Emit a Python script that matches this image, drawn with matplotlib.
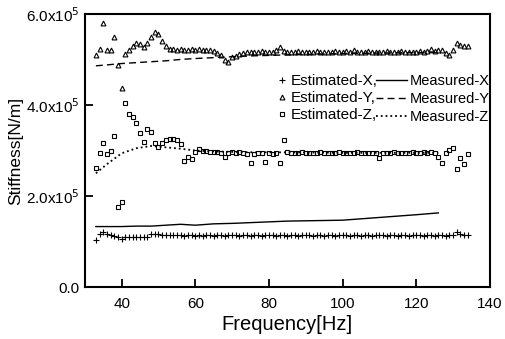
import matplotlib
matplotlib.use("Agg")
import matplotlib.pyplot as plt
import numpy as np

plt.rcParams['font.family'] = ['Liberation Sans', 'DejaVu Sans']

# frequency grid of the estimated points [Hz]
freq = np.arange(33, 135)

# estimated stiffness, units of 1e5 N/m
est_x = [1.03, 1.16, 1.22, 1.16, 1.15, 1.12, 1.09, 1.06,
         1.10, 1.11, 1.11, 1.11, 1.10, 1.09, 1.09, 1.17, 1.16, 1.16,
         1.15, 1.15, 1.14, 1.14, 1.14, 1.14, 1.13, 1.14, 1.14, 1.13,
         1.14, 1.13, 1.14, 1.14, 1.13, 1.14, 1.14, 1.13, 1.14, 1.14,
         1.14, 1.13, 1.14, 1.14, 1.13, 1.14, 1.14, 1.13, 1.14, 1.14,
         1.14, 1.13, 1.14, 1.14, 1.13, 1.14, 1.14, 1.13, 1.14, 1.14,
         1.14, 1.13, 1.14, 1.14, 1.13, 1.14, 1.14, 1.13, 1.14, 1.14,
         1.14, 1.13, 1.14, 1.14, 1.13, 1.14, 1.14, 1.13, 1.14, 1.14,
         1.14, 1.13, 1.14, 1.14, 1.13, 1.14, 1.14, 1.13, 1.14, 1.14,
         1.14, 1.13, 1.14, 1.14, 1.13, 1.14, 1.14, 1.13, 1.14, 1.15,
         1.20, 1.16, 1.15, 1.15]

est_y = [5.10, 5.23, 5.80, 5.20, 5.21, 5.50, 4.88, 4.37,
         5.12, 5.20, 5.30, 5.36, 5.33, 5.27, 5.36, 5.50, 5.60, 5.55,
         5.40, 5.30, 5.24, 5.22, 5.21, 5.22, 5.20, 5.21, 5.22, 5.21,
         5.22, 5.21, 5.20, 5.21, 5.19, 5.15, 5.10, 4.98, 4.95, 5.05,
         5.08, 5.12, 5.14, 5.16, 5.17, 5.16, 5.17, 5.18, 5.17, 5.16,
         5.17, 5.20, 5.28, 5.18, 5.17, 5.16, 5.17, 5.18, 5.17, 5.17,
         5.16, 5.17, 5.18, 5.17, 5.16, 5.17, 5.17, 5.18, 5.17, 5.17,
         5.18, 5.17, 5.20, 5.17, 5.16, 5.17, 5.18, 5.17, 5.16, 5.17,
         5.17, 5.18, 5.17, 5.16, 5.17, 5.18, 5.17, 5.16, 5.17, 5.17,
         5.18, 5.17, 5.19, 5.22, 5.18, 5.20, 5.21, 5.14, 5.10, 5.20,
         5.36, 5.32, 5.30, 5.30]

est_z = [2.61, 2.95, 3.16, 2.92, 3.00, 3.32, 1.75, 1.86,
         4.05, 3.80, 3.73, 3.61, 3.39, 3.19, 3.47, 3.41, 3.17, 3.07,
         3.16, 3.22, 3.25, 3.25, 3.22, 3.14, 2.77, 2.86, 2.81, 2.97,
         3.03, 3.00, 2.98, 2.97, 2.96, 2.97, 2.95, 2.86, 2.94, 2.96,
         2.95, 2.96, 2.94, 2.93, 2.72, 2.93, 2.95, 2.94, 2.74, 2.95,
         2.93, 2.94, 2.73, 3.22, 2.96, 2.95, 2.94, 2.95, 2.96, 2.95,
         2.95, 2.94, 2.95, 2.96, 2.95, 2.94, 2.95, 2.95, 2.96, 2.95,
         2.94, 2.95, 2.95, 2.96, 2.95, 2.95, 2.94, 2.95, 2.95, 2.83,
         2.95, 2.94, 2.95, 2.96, 2.95, 2.95, 2.94, 2.95, 2.96, 2.95,
         2.95, 2.96, 2.94, 2.97, 2.95, 2.86, 2.72, 2.94, 3.01, 3.05,
         2.59, 2.83, 2.70, 2.92]

# measured stiffness
freq_meas = [33, 36, 40, 44, 48, 52, 56, 60, 65, 70, 76, 85, 100, 110, 120, 126]
meas_x = [1.33, 1.33, 1.33, 1.34, 1.34, 1.36, 1.38, 1.36, 1.39, 1.40, 1.42, 1.45, 1.47, 1.53, 1.59, 1.63]
meas_y = [4.86, 4.88, 4.91, 4.93, 4.95, 4.97, 5.00, 5.02, 5.04, 5.06, 5.08, 5.10, 5.13, 5.14, 5.15, 5.15]
meas_z = [2.50, 2.70, 2.94, 3.05, 3.10, 3.07, 3.04, 3.00, 2.98, 2.97, 2.96, 2.96, 2.95, 2.95, 2.95, 2.95]

fig = plt.figure(figsize=(5.05, 3.39), dpi=100)
ax = fig.add_axes([0.168, 0.153, 0.802, 0.806])

sc = 1e5
h1, = ax.plot(freq, np.array(est_x) * sc, '+', color='k', ms=4, mew=0.8, label='Estimated-X,')
h2, = ax.plot(freq, np.array(est_y) * sc, '^', color='k', mfc='none', ms=3.5, mew=0.8, label='Estimated-Y,')
h3, = ax.plot(freq, np.array(est_z) * sc, 's', color='k', mfc='none', ms=3.5, mew=0.8, label='Estimated-Z,')
h4, = ax.plot(freq_meas, np.array(meas_x) * sc, '-', color='k', lw=1.0, label='Measured-X')
h5, = ax.plot(freq_meas, np.array(meas_y) * sc, '--', color='k', lw=1.0, dashes=(5, 3), label='Measured-Y')
h6, = ax.plot(freq_meas, np.array(meas_z) * sc, ':', color='k', lw=1.3, label='Measured-Z')

ax.set_xlim(30, 140)
ax.set_ylim(0, 6e5)
ax.set_xticks([40, 60, 80, 100, 120, 140])
ax.set_yticks([0, 2e5, 4e5, 6e5])
ax.set_yticklabels(['0.0', r'2.0x10$^5$', r'4.0x10$^5$', r'6.0x10$^5$'])
ax.tick_params(direction='in', length=6, width=1.3, labelsize=11, top=False, right=False)
ax.tick_params(axis='x', pad=7)
for s in ax.spines.values():
    s.set_linewidth(1.5)

ax.set_xlabel('Frequency[Hz]', fontsize=14.5, labelpad=3)
ax.set_ylabel('Stiffness[N/m]', fontsize=12.5, labelpad=2)

# legend in two parts: markers on the left, lines on the right
leg1 = ax.legend(handles=[h1, h2, h3], frameon=False, fontsize=11, loc='upper left',
                 bbox_to_anchor=(0.475, 0.779), handlelength=0.6, handletextpad=0.3,
                 labelspacing=0.2, borderpad=0, borderaxespad=0, numpoints=1)
ax.add_artist(leg1)
ax.legend(handles=[h4, h5, h6], frameon=False, fontsize=10.5, loc='upper left',
          bbox_to_anchor=(0.72, 0.779), handlelength=2.1, handletextpad=0.2,
          labelspacing=0.27, borderpad=0, borderaxespad=0)

fig.savefig('out.png', dpi=100)
